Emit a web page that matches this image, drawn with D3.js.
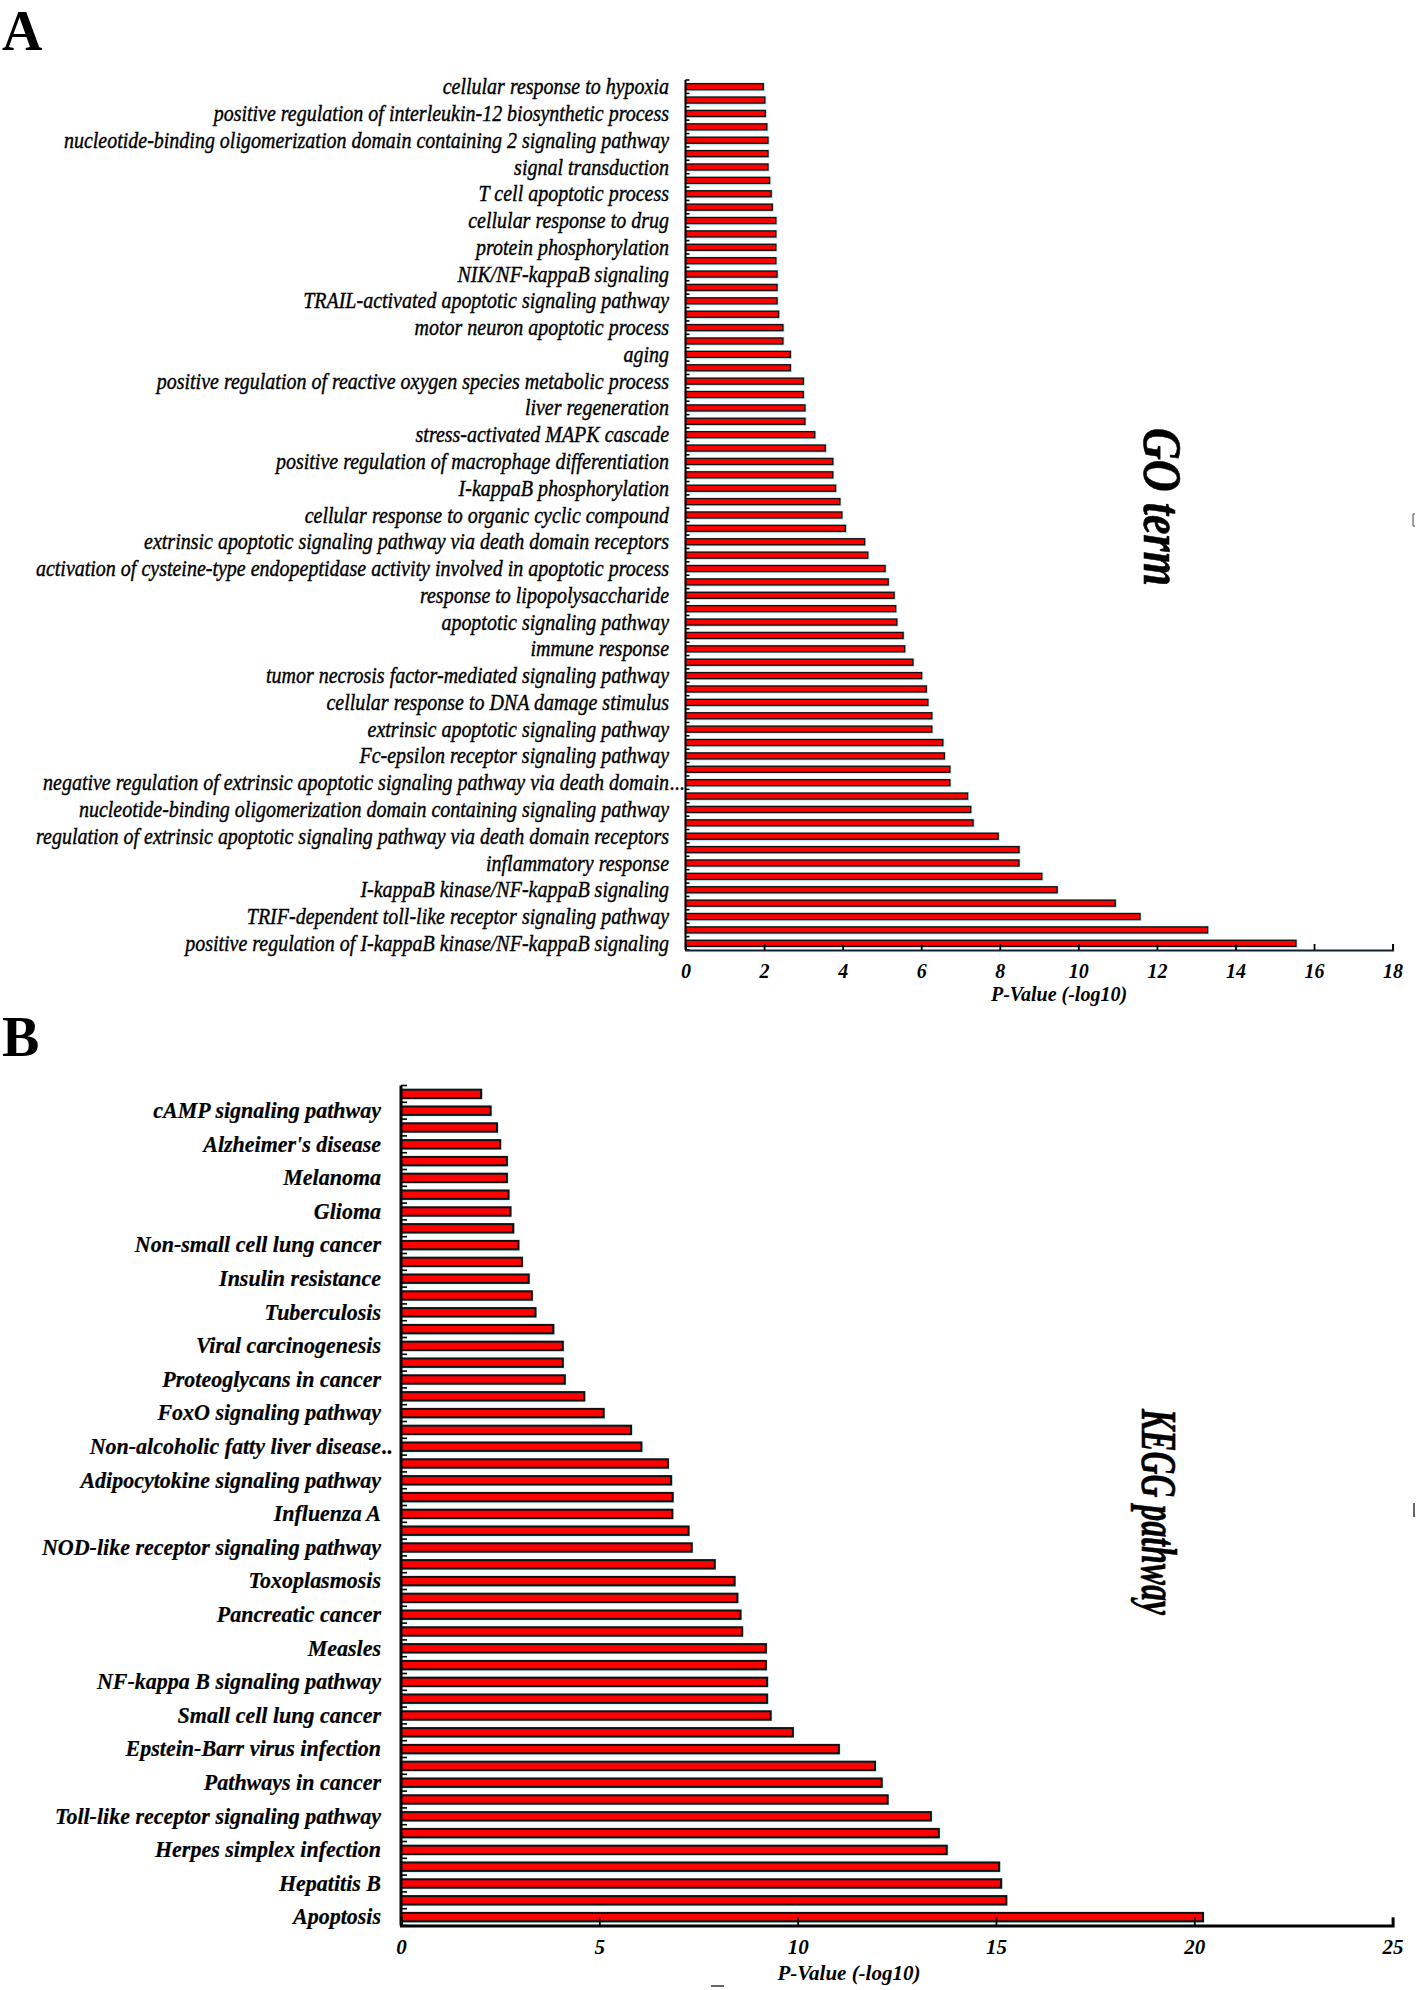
<!DOCTYPE html>
<html><head><meta charset="utf-8">
<script src="https://cdn.jsdelivr.net/npm/d3@7"></script>
<style>
html,body{margin:0;padding:0;background:#fff;}
svg{display:block;}
text{font-family:"Liberation Serif","Times New Roman",serif;}
</style></head>
<body>
<script>
// ---------- Panel A: GO terms (65 bars, every other one labelled, top to bottom) ----------
const goLabels = [
 "cellular response to hypoxia",
 "positive regulation of interleukin-12 biosynthetic process",
 "nucleotide-binding oligomerization domain containing 2 signaling pathway",
 "signal transduction",
 "T cell apoptotic process",
 "cellular response to drug",
 "protein phosphorylation",
 "NIK/NF-kappaB signaling",
 "TRAIL-activated apoptotic signaling pathway",
 "motor neuron apoptotic process",
 "aging",
 "positive regulation of reactive oxygen species metabolic process",
 "liver regeneration",
 "stress-activated MAPK cascade",
 "positive regulation of macrophage differentiation",
 "I-kappaB phosphorylation",
 "cellular response to organic cyclic compound",
 "extrinsic apoptotic signaling pathway via death domain receptors",
 "activation of cysteine-type endopeptidase activity involved in apoptotic process",
 "response to lipopolysaccharide",
 "apoptotic signaling pathway",
 "immune response",
 "tumor necrosis factor-mediated signaling pathway",
 "cellular response to DNA damage stimulus",
 "extrinsic apoptotic signaling pathway",
 "Fc-epsilon receptor signaling pathway",
 "negative regulation of extrinsic apoptotic signaling pathway via death domain...",
 "nucleotide-binding oligomerization domain containing signaling pathway",
 "regulation of extrinsic apoptotic signaling pathway via death domain receptors",
 "inflammatory response",
 "I-kappaB kinase/NF-kappaB signaling",
 "TRIF-dependent toll-like receptor signaling pathway",
 "positive regulation of I-kappaB kinase/NF-kappaB signaling"
];
const goValues = [
 1.98,2.02,2.03,2.07,2.10,2.10,2.10,2.14,2.18,2.21,
 2.30,2.30,2.30,2.30,2.33,2.33,2.33,2.37,2.48,2.48,
 2.67,2.67,3.00,3.00,3.04,3.04,3.29,3.56,3.75,3.75,
 3.82,3.93,3.98,4.07,4.56,4.64,5.08,5.16,5.31,5.35,
 5.38,5.54,5.58,5.79,6.01,6.13,6.17,6.27,6.27,6.55,
 6.59,6.73,6.73,7.18,7.26,7.32,7.96,8.49,8.49,9.07,
 9.46,10.94,11.57,13.29,15.54
];
const goTicks = [0,2,4,6,8,10,12,14,16,18];
const goTitle = "GO term";

// ---------- Panel B: KEGG pathways (50 bars, every other one labelled) ----------
const keggLabels = [
 "cAMP signaling pathway",
 "Alzheimer's disease",
 "Melanoma",
 "Glioma",
 "Non-small cell lung cancer",
 "Insulin resistance",
 "Tuberculosis",
 "Viral carcinogenesis",
 "Proteoglycans in cancer",
 "FoxO signaling pathway",
 "Non-alcoholic fatty liver disease..",
 "Adipocytokine signaling pathway",
 "Influenza A",
 "NOD-like receptor signaling pathway",
 "Toxoplasmosis",
 "Pancreatic cancer",
 "Measles",
 "NF-kappa B signaling pathway",
 "Small cell lung cancer",
 "Epstein-Barr virus infection",
 "Pathways in cancer",
 "Toll-like receptor signaling pathway",
 "Herpes simplex infection",
 "Hepatitis B",
 "Apoptosis"
];
const keggValues = [
 2.02,2.26,2.42,2.50,2.67,2.67,2.71,2.76,2.83,2.96,
 3.05,3.22,3.30,3.39,3.84,4.08,4.08,4.13,4.62,5.11,
 5.80,6.06,6.73,6.81,6.85,6.84,7.25,7.33,7.91,8.41,
 8.48,8.56,8.60,9.20,9.20,9.23,9.23,9.32,9.88,11.04,
 11.95,12.12,12.27,13.36,13.56,13.76,15.08,15.13,15.26,20.22
];
const keggTicks = [0,5,10,15,20,25];
const keggTitle = "KEGG pathway";
const xTitle = "P-Value (-log10)";

const svg = d3.select("body").append("svg").attr("width",1418).attr("height",1990);

function panel(o){
  const g = svg.append("g");
  const n = o.values.length;
  const x = d3.scaleLinear().domain([0,o.xmax]).range([o.x0,o.x1]);
  const y = d3.scaleBand().domain(d3.range(n)).range([o.y0,o.y1])
      .paddingInner(o.pad).paddingOuter(o.pad/2);
  const step = y.step();
  const bw = y.bandwidth();
  const labelOf = i => ((i - o.first) % 2 === 0 && i >= o.first) ? o.labels[(i - o.first)/2] : null;

  // cyan fringe under bars
  g.append("g").selectAll("rect").data(o.values).join("rect")
    .attr("x", x(0)).attr("y",(d,i)=>y(i)-1)
    .attr("width",d=>x(d)-x(0)+1.5).attr("height",bw+2.5)
    .attr("fill","#9fe6e6");
  // bars
  g.append("g").selectAll("rect").data(o.values).join("rect")
    .attr("x", x(0)).attr("y",(d,i)=>y(i))
    .attr("width",d=>x(d)-x(0)).attr("height",bw)
    .attr("fill","#ff0000").attr("stroke","#111").attr("stroke-width",o.sw);

  // y-axis line & boundary ticks (pointing right)
  g.append("line").attr("x1",x(0)).attr("x2",x(0)).attr("y1",o.y0).attr("y2",o.y1)
    .attr("stroke","#000").attr("stroke-width",o.axw);
  g.append("g").selectAll("line").data(d3.range(n+1)).join("line")
    .attr("x1",x(0)).attr("x2",x(0)+o.tl)
    .attr("y1",i=>o.y0+i*step).attr("y2",i=>o.y0+i*step)
    .attr("stroke","#000").attr("stroke-width",1.6);

  // category labels through a left axis
  const ya = d3.axisLeft(y).tickSize(0).tickPadding(o.lp)
     .tickFormat(i => { const l = labelOf(i); return l ? l.replace(/\.+$/,"") : ""; });
  const ag = g.append("g").attr("transform",`translate(${x(0)},0)`).call(ya);
  ag.select(".domain").remove();
  ag.selectAll("text").attr("font-family","'Liberation Serif',serif")
    .attr("font-style","italic").attr("font-weight",o.lw).attr("font-size",o.lfs)
    .attr("fill","#000").attr("stroke","#000").attr("stroke-width",o.lsw)
    .attr("transform",`scale(1,${o.lsy})`);
  d3.range(n).forEach(i=>{
    const l = labelOf(i);
    if(l && /\.+$/.test(l)){
      g.append("text").attr("transform",`translate(${x(0)-o.lp+1},${y(i)+bw/2}) scale(1,${o.lsy})`)
       .attr("dy","0.32em")
       .attr("font-style","italic").attr("font-weight",o.lw).attr("font-size",o.lfs)
       .attr("stroke","#000").attr("stroke-width",o.lsw)
       .text(l.match(/\.+$/)[0]);
    }
  });

  // x axis (ticks pointing inward)
  const xa = d3.axisBottom(x).tickValues(o.ticks).tickSize(-o.xtl).tickPadding(o.xtp).tickFormat(d3.format("d"));
  const xg = g.append("g").attr("transform",`translate(0,${o.y1})`).call(xa);
  xg.select(".domain").attr("stroke",o.xcol).attr("stroke-width",o.axw);
  xg.selectAll(".tick line").attr("stroke","#000").attr("stroke-width",1.8);
  xg.selectAll("text").attr("font-family","'Liberation Serif',serif").attr("font-style","italic")
    .attr("font-weight","bold").attr("font-size",o.tfs).attr("fill","#000");

  g.append("text").attr("x",o.xtx).attr("y",o.xty).attr("text-anchor","middle")
    .attr("font-style","italic").attr("font-weight","bold").attr("font-size",o.tfs)
    .text(xTitle);

  g.append("text").attr("transform",`translate(${o.rtx},${o.rty}) rotate(90)`)
    .attr("text-anchor","middle").attr("dy","0.35em")
    .attr("font-style","italic").attr("font-weight","bold").attr("font-size",o.rfs)
    .attr("stroke","#000").attr("stroke-width",0.6)
    .attr("textLength",o.rlen).attr("lengthAdjust","spacingAndGlyphs")
    .text(o.title);
}

panel({labels:goLabels, values:goValues, first:0, xmax:18, ticks:goTicks, title:goTitle,
  x0:685.5, x1:1392.6, y0:80, y1:950, pad:0.55, sw:1.3, axw:2, tl:4, lp:16.5,
  lw:"normal", lfs:20, lsw:0.35, lsy:1.18, xtl:6, xtp:14, xcol:"#123", tfs:20,
  xtx:1059, xty:1001, rtx:1163, rty:507, rfs:54, rlen:158});

panel({labels:keggLabels, values:keggValues, first:1, xmax:25, ticks:keggTicks, title:keggTitle,
  x0:401, x1:1392.6, y0:1085.5, y1:1925.5, pad:0.5, sw:2, axw:3, tl:6, lp:20,
  lw:"bold", lfs:22, lsw:0.2, lsy:1.05, xtl:8, xtp:14, xcol:"#000", tfs:21,
  xtx:849, xty:1980, rtx:1159, rty:1512, rfs:50, rlen:206});

// panel letters
svg.append("text").attr("x",2).attr("y",50).attr("font-weight","bold").attr("font-size",56).text("A");
svg.append("text").attr("x",2).attr("y",1056).attr("font-weight","bold").attr("font-size",56).text("B");

// small stray marks present in the reference figure
svg.append("path").attr("d","M1415,514 h-2 v12 h2").attr("fill","none").attr("stroke","#444").attr("stroke-width",1);
svg.append("line").attr("x1",1414).attr("x2",1414).attr("y1",1503).attr("y2",1517).attr("stroke","#333").attr("stroke-width",1.5);
svg.append("line").attr("x1",711).attr("x2",724).attr("y1",1986).attr("y2",1986).attr("stroke","#333").attr("stroke-width",1.5);
</script>
</body></html>
